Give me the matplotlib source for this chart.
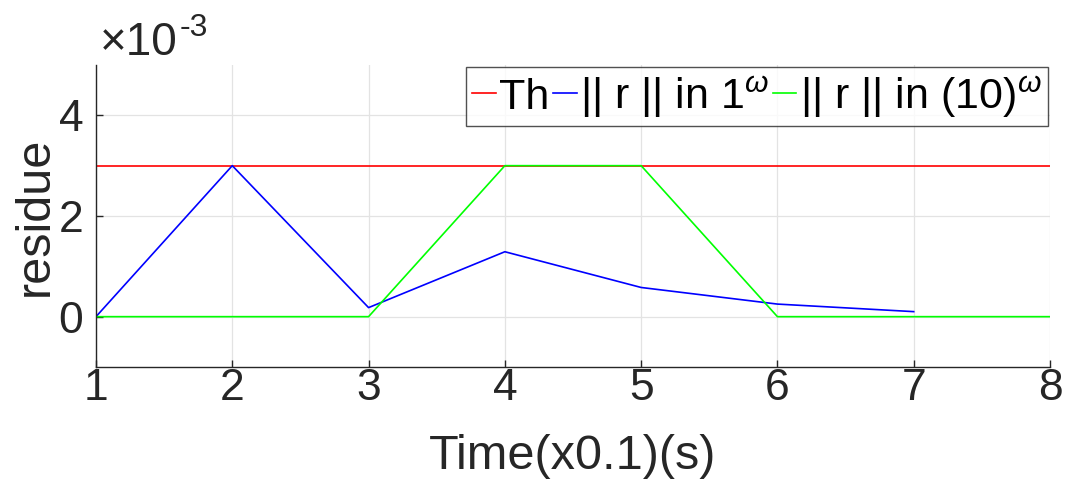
import matplotlib
matplotlib.use("Agg")
import matplotlib.pyplot as plt

plt.rcParams['font.family'] = ['Liberation Sans', 'DejaVu Sans']
plt.rcParams['mathtext.fontset'] = 'custom'
plt.rcParams['mathtext.rm'] = 'Liberation Sans'
plt.rcParams['mathtext.it'] = 'Liberation Sans:italic'

time = [1, 2, 3, 4, 5, 6, 7, 8]
time_blue = [1, 2, 3, 4, 5, 6, 7]
threshold = [3.0e-3] * 8
r_in_1 = [0.0, 3.0e-3, 0.18e-3, 1.29e-3, 0.58e-3, 0.25e-3, 0.10e-3]
r_in_10 = [0.0, 0.0, 0.0, 3.0e-3, 3.0e-3, 0.0, 0.0, 0.0]
yticks = [0, 2e-3, 4e-3]
ytick_labels = ['0', '2', '4']
xticks = [1, 2, 3, 4, 5, 6, 7, 8]

txt = '#262626'
fig = plt.figure(figsize=(10.68, 4.88), dpi=100)
ax = fig.add_axes([96/1068, 1 - 367/488, (1050-96)/1068, (367-65)/488])

ax.plot(time, threshold, color='#ff0000', lw=1.2, label='Th')
ax.plot(time_blue, r_in_1, color='#0000ff', lw=1.2, label=r'|| r || in 1$^{\omega}$')
ax.plot(time, r_in_10, color='#00ff00', lw=1.2, label=r'|| r || in (10)$^{\omega}$')

ax.set_xlim(1, 8)
ax.set_ylim(-1e-3, 5e-3)
ax.set_xticks(xticks)
ax.set_xticklabels([str(t) for t in xticks])
ax.set_yticks(yticks)
ax.set_yticklabels(ytick_labels)
ax.grid(True, color='#e3e3e3', lw=0.9)
ax.set_axisbelow(True)
for s in ['top', 'right']:
    ax.spines[s].set_visible(False)
for s in ['left', 'bottom']:
    ax.spines[s].set_color('#262626')
    ax.spines[s].set_linewidth(1.0)
ax.tick_params(direction='in', length=5, width=1, colors='#262626',
               labelsize=32, labelcolor=txt)
ax.tick_params(axis='x', pad=1)
ax.tick_params(axis='y', pad=9)

ax.set_xlabel('Time(x0.1)(s)', fontsize=35, color=txt, labelpad=18)
ax.set_ylabel('residue', fontsize=35, color=txt, labelpad=1)

fig.text(100/1068, 1 - 55/488, '\u00d710', fontsize=33,
         color=txt, ha='left', va='baseline')
fig.text(180/1068, 1 - 36/488, '-3', fontsize=23,
         color=txt, ha='left', va='baseline')

leg = ax.legend(loc='upper right', ncol=3, fontsize=31, frameon=True,
                fancybox=False, edgecolor='#262626', handlelength=0.55,
                handletextpad=0.08, columnspacing=0.08, borderpad=0.15,
                borderaxespad=0.05, labelcolor='black')
leg.get_frame().set_linewidth(1.0)

fig.savefig('out.png', dpi=100)
